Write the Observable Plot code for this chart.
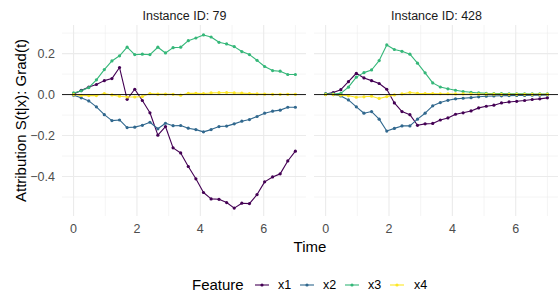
<!DOCTYPE html>
<html><head><meta charset="utf-8">
<script src="https://cdn.jsdelivr.net/npm/d3@7"></script>
<script src="https://cdn.jsdelivr.net/npm/@observablehq/plot@0.6"></script>
<style>
body{margin:0;background:#fff;font-family:"Liberation Sans",Arial,Helvetica,sans-serif;}
#chart{width:558px;height:294px;overflow:hidden;}
#legend{position:relative;width:558px;height:36px;color:#000;}
#legend > *{position:absolute;}
#legend .title{font-size:15px;line-height:18px;top:18px;}
#legend .lab{font-size:12.5px;line-height:18px;top:18px;}
#legend svg{top:21px;}
</style></head><body><div id="chart"></div>
<script>
// ---- data ----
const times = [0, 0.24, 0.48, 0.72, 0.97, 1.21, 1.45, 1.69, 1.93, 2.17, 2.41, 2.66, 2.9, 3.14, 3.38, 3.62, 3.86, 4.1, 4.34, 4.59, 4.83, 5.07, 5.31, 5.55, 5.79, 6.03, 6.28, 6.52, 6.76, 7];
const features = ["x1", "x2", "x3", "x4"];
const instances = [79, 428];
const featureColors = ["#440154", "#31688E", "#35B779", "#FDE725"];
const xTicks = [0, 2, 4, 6];
const xMinorTicks = [1, 3, 5, 7];
const yTicks = [-0.4, -0.2, 0, 0.2];
const yMinorTicks = [-0.5, -0.3, -0.1, 0.1, 0.3];

const i79_x1 = [0.003, 0.02, 0.037, 0.049, 0.068, 0.078, 0.132, -0.023, 0.026, -0.029, -0.089, -0.198, -0.156, -0.260, -0.285, -0.351, -0.411, -0.478, -0.509, -0.511, -0.527, -0.554, -0.530, -0.532, -0.488, -0.426, -0.402, -0.387, -0.324, -0.276];
const i79_x2 = [-0.003, -0.016, -0.031, -0.060, -0.098, -0.127, -0.124, -0.161, -0.159, -0.150, -0.135, -0.167, -0.140, -0.152, -0.151, -0.164, -0.171, -0.182, -0.171, -0.156, -0.154, -0.143, -0.130, -0.122, -0.107, -0.091, -0.081, -0.076, -0.062, -0.062];
const i79_x3 = [0.008, 0.018, 0.034, 0.072, 0.122, 0.164, 0.189, 0.231, 0.195, 0.197, 0.195, 0.231, 0.203, 0.229, 0.231, 0.263, 0.276, 0.291, 0.281, 0.255, 0.247, 0.234, 0.210, 0.195, 0.167, 0.137, 0.117, 0.114, 0.098, 0.098];
const i79_x4 = [0, -0.004, -0.005, -0.005, 0.005, -0.002, -0.008, -0.012, -0.012, -0.010, 0.005, 0.002, 0.002, 0.001, -0.003, 0.006, 0.006, 0.005, 0.008, 0.009, 0.010, 0.008, 0.007, 0.005, 0.003, 0.002, 0.001, 0.001, 0.001, 0.001];

const i428_x1 = [0.003, 0.010, 0.024, 0.063, 0.104, 0.081, 0.068, 0.054, 0.026, -0.041, -0.083, -0.098, -0.150, -0.143, -0.141, -0.124, -0.114, -0.096, -0.089, -0.080, -0.065, -0.057, -0.052, -0.041, -0.036, -0.033, -0.029, -0.024, -0.021, -0.016];
const i428_x2 = [0.002, 0, -0.007, -0.026, -0.060, -0.091, -0.083, -0.120, -0.178, -0.165, -0.153, -0.153, -0.120, -0.091, -0.055, -0.039, -0.028, -0.021, -0.018, -0.015, -0.011, -0.008, -0.007, -0.006, -0.005, -0.004, -0.004, -0.003, -0.003, -0.002];
const i428_x3 = [0.003, 0.003, 0.006, 0.036, 0.085, 0.107, 0.120, 0.166, 0.242, 0.220, 0.211, 0.197, 0.153, 0.106, 0.057, 0.037, 0.028, 0.021, 0.015, 0.011, 0.008, 0.006, 0.005, 0.005, 0.004, 0.004, 0.004, 0.003, 0.003, 0.003];
const i428_x4 = [0, 0, -0.003, -0.006, -0.013, -0.011, -0.008, -0.019, -0.010, -0.002, 0.003, 0.010, 0.006, 0.005, 0.005, 0.004, 0.004, 0.003, 0.003, 0.003, 0.002, 0.002, 0.002, 0.001, 0.001, 0.001, 0.001, 0.001, 0.001, 0.001];

const series = {
  79: [i79_x1, i79_x2, i79_x3, i79_x4],
  428: [i428_x1, i428_x2, i428_x3, i428_x4]
};

const data = [];
instances.forEach(id => features.forEach((f, k) => series[id][k].forEach((v, i) => {
  data.push({instance: id, feature: f, time: times[i], value: v});
})));

const FONT = '"Liberation Sans", Arial, Helvetica, sans-serif';

const plot = Plot.plot({
  width: 558, height: 258,
  marginLeft: 62, marginRight: 0, marginTop: 25, marginBottom: 42,
  style: {fontFamily: FONT, background: "#fff", overflow: "visible"},
  x: {domain: [-0.35, 7.35]},
  y: {domain: [-0.595, 0.337]},
  fx: {domain: instances, paddingInner: 0.032, paddingOuter: 0, round: false},
  color: {domain: features, range: featureColors},
  marks: [
    Plot.ruleY(yMinorTicks, {stroke: "#ebebeb", strokeWidth: 0.55}),
    Plot.ruleX(xMinorTicks, {stroke: "#ebebeb", strokeWidth: 0.55}),
    Plot.ruleY(yTicks, {stroke: "#ebebeb", strokeWidth: 1.1}),
    Plot.ruleX(xTicks, {stroke: "#ebebeb", strokeWidth: 1.1}),
    Plot.axisFx({anchor: "top", label: null, tickSize: 0, tickPadding: 6,
      tickFormat: d => `Instance ID: ${d}`, fontSize: 12.5, fill: "#1a1a1a"}),
    Plot.axisX({ticks: xTicks, tickSize: 0, tickPadding: 8, label: null, fontSize: 12.5, fill: "#4d4d4d"}),
    Plot.axisY({ticks: yTicks, tickSize: 0, tickPadding: 7.5, tickFormat: ".1f", label: null, fontSize: 12.5, fill: "#4d4d4d"}),
    Plot.line(data, {x: "time", y: "value", z: "feature", stroke: "feature", fx: "instance", strokeWidth: 1.1}),
    Plot.dot(data, {x: "time", y: "value", fill: "feature", fx: "instance", r: 1.6}),
    Plot.ruleY([0], {stroke: "#000", strokeWidth: 0.9})
  ]
});

const svg = d3.select(plot);
svg.append("text")
  .attr("x", 310).attr("y", 251.5)
  .attr("text-anchor", "middle")
  .attr("font-size", 15).attr("fill", "#000")
  .attr("font-family", FONT)
  .text("Time");
svg.append("text")
  .attr("transform", "translate(20.5,120.5) rotate(-90)")
  .attr("text-anchor", "middle").attr("dominant-baseline", "central")
  .attr("font-size", 15).attr("fill", "#000")
  .attr("font-family", FONT)
  .text("Attribution S(t|x): Grad(t)");

const chart = document.getElementById("chart");
chart.appendChild(plot);

// legend (positions are layout only)
const keyLeft = [255, 300, 345, 390];
const labLeft = [278, 323, 368, 414];
const color = plot.scale("color");
const legend = document.createElement("div");
legend.id = "legend";
const title = document.createElement("span");
title.className = "title";
title.style.left = "192px";
title.textContent = "Feature";
legend.appendChild(title);
features.forEach((f, i) => {
  const c = color.apply(f);
  const key = d3.create("svg").attr("width", 14).attr("height", 12).style("left", keyLeft[i] + "px");
  key.append("line").attr("x1", 0).attr("x2", 14).attr("y1", 6).attr("y2", 6).attr("stroke", c).attr("stroke-width", 1.1);
  key.append("circle").attr("cx", 7).attr("cy", 6).attr("r", 1.6).attr("fill", c);
  legend.appendChild(key.node());
  const lab = document.createElement("span");
  lab.className = "lab";
  lab.style.left = labLeft[i] + "px";
  lab.textContent = f;
  legend.appendChild(lab);
});
chart.appendChild(legend);
</script></body></html>
